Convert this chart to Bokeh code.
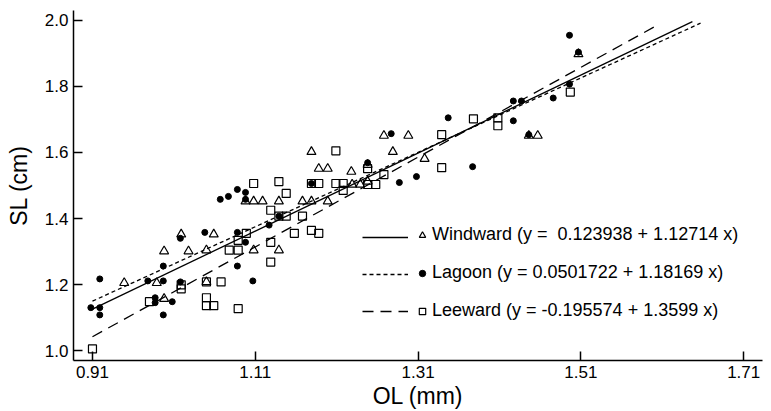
from bokeh.plotting import figure
from bokeh.models import Range1d, FixedTicker, Legend, LegendItem, ColumnDataSource
from bokeh.embed import file_html
from bokeh.resources import INLINE

# ---------------- data ----------------
windward_ol = [0.949, 0.989, 0.998, 0.998, 1.019, 1.028, 1.050, 1.050, 1.059, 1.108, 1.139,
               1.098, 1.108, 1.119, 1.139, 1.168, 1.179, 1.199, 1.179, 1.188, 1.199, 1.228,
               1.229, 1.239, 1.248, 1.248, 1.268, 1.298, 1.279, 1.318, 1.446, 1.457, 1.507]
windward_sl = [1.205, 1.205, 1.301, 1.157, 1.352, 1.301, 1.304, 1.208, 1.352, 1.304, 1.304,
               1.452, 1.452, 1.452, 1.452, 1.452, 1.452, 1.452, 1.602, 1.551, 1.551, 1.542,
               1.503, 1.503, 1.563, 1.512, 1.651, 1.651, 1.602, 1.581, 1.651, 1.651, 1.898]

lagoon_ol = [0.908, 0.919, 0.919, 0.919, 0.978, 0.987, 0.987, 0.997, 0.997, 0.997, 1.008,
             1.018, 1.018, 1.048, 1.088, 1.088, 1.098, 1.107, 1.067, 1.077, 1.088, 1.098,
             1.098, 1.127, 1.139, 1.179, 1.248, 1.277, 1.287, 1.308, 1.347, 1.377, 1.427,
             1.437, 1.427, 1.446, 1.476, 1.496, 1.507, 1.496]
lagoon_sl = [1.130, 1.217, 1.130, 1.108, 1.211, 1.160, 1.145, 1.256, 1.211, 1.108, 1.148,
             1.340, 1.208, 1.358, 1.358, 1.256, 1.328, 1.211, 1.458, 1.467, 1.488, 1.479,
             1.458, 1.380, 1.407, 1.506, 1.569, 1.657, 1.509, 1.527, 1.705, 1.557, 1.756,
             1.756, 1.696, 1.654, 1.765, 1.955, 1.904, 1.807]

leeward_ol = [0.910, 0.980, 1.019, 1.019, 1.050, 1.050, 1.050, 1.059, 1.068, 1.089, 1.089,
              1.078, 1.089, 1.099, 1.129, 1.129, 1.108, 1.139, 1.148, 1.129, 1.139, 1.148,
              1.168, 1.158, 1.179, 1.188, 1.179, 1.188, 1.209, 1.209, 1.218, 1.218, 1.248,
              1.248, 1.258, 1.268, 1.339, 1.339, 1.378, 1.408, 1.408, 1.497]
leeward_sl = [1.005, 1.148, 1.199, 1.187, 1.208, 1.160, 1.136, 1.136, 1.208, 1.127, 1.334,
              1.304, 1.304, 1.355, 1.328, 1.268, 1.506, 1.512, 1.476, 1.425, 1.407, 1.407,
              1.407, 1.355, 1.364, 1.355, 1.506, 1.506, 1.605, 1.506, 1.506, 1.485, 1.551,
              1.503, 1.503, 1.533, 1.654, 1.554, 1.702, 1.705, 1.681, 1.783]

# regression equations as printed in the legend
fit_names = ["Windward", "Lagoon", "Leeward"]
fit_intercept = [0.123938, 0.0501722, -0.195574]
fit_slope = [1.12714, 1.18169, 1.3599]
fit_x_start = [0.91, 0.91, 0.91]
fit_x_end = [1.657, 1.647, 1.602]
legend_labels = ["Windward (y =  0.123938 + 1.12714 x)",
                 "Lagoon (y = 0.0501722 + 1.18169 x)",
                 "Leeward (y = -0.195574 + 1.3599 x)"]

x_ticks = [0.91, 1.11, 1.31, 1.51, 1.71]
x_tick_labels = ["0.91", "1.11", "1.31", "1.51", "1.71"]
y_ticks = [1.0, 1.2, 1.4, 1.6, 1.8, 2.0]
y_tick_labels = ["1.0", "1.2", "1.4", "1.6", "1.8", "2.0"]

FONT = "Liberation Sans"

p = figure(width=771, height=411, output_backend="svg", toolbar_location=None,
           x_range=Range1d(0.8867, 1.7331), y_range=Range1d(0.9699, 2.0301),
           min_border_left=73, min_border_right=9, min_border_top=10, min_border_bottom=49)
p.outline_line_color = None
p.xgrid.visible = False
p.ygrid.visible = False
p.background_fill_color = "white"

# regression lines (drawn styles as in the picture)
drawn_dash = {"Windward": "4 3", "Lagoon": "solid", "Leeward": "11 7"}
line_r = {}
for name, a, b, x0, x1 in zip(fit_names, fit_intercept, fit_slope, fit_x_start, fit_x_end):
    src = ColumnDataSource(dict(x=[x0, x1], y=[a + b * x0, a + b * x1]))
    line_r[name] = p.line("x", "y", source=src, line_color="black", line_width=1.3,
                          line_dash=drawn_dash[name])

rw = p.scatter(windward_ol, windward_sl, marker="triangle", size=9, fill_color=None,
               line_color="black", line_width=1.2)
rl = p.scatter(lagoon_ol, lagoon_sl, marker="circle", size=6, fill_color="black",
               line_color="black")
rle = p.scatter(leeward_ol, leeward_sl, marker="square", size=8, fill_color=None,
                line_color="black", line_width=1.2)

# axes
for ax in (p.xaxis[0], p.yaxis[0]):
    ax.axis_line_width = 1.5
    ax.axis_line_color = "black"
    ax.major_tick_in = 9
    ax.major_tick_out = 0
    ax.major_tick_line_width = 1.5
    ax.major_tick_line_color = "black"
    ax.minor_tick_line_color = None
    ax.major_label_text_font = FONT
    ax.major_label_text_font_size = "17px"
    ax.major_label_text_color = "black"
    ax.axis_label_text_font = FONT
    ax.axis_label_text_font_size = "23px"
    ax.axis_label_text_font_style = "normal"
    ax.axis_label_text_color = "black"

p.xaxis.ticker = FixedTicker(ticks=x_ticks)
p.xaxis.major_label_overrides = dict(zip(x_ticks, x_tick_labels))
p.yaxis.ticker = FixedTicker(ticks=y_ticks)
p.yaxis.major_label_overrides = dict(zip(y_ticks, y_tick_labels))
p.xaxis.axis_label = "OL (mm)"
p.yaxis.axis_label = "SL (cm)"
p.xaxis.major_label_standoff = 5
p.xaxis.axis_label_standoff = 2
p.yaxis.major_label_standoff = 5
p.yaxis.axis_label_standoff = 10

# legend: line samples (left) + markers with text (right)
legA = Legend(items=[LegendItem(label=" ", renderers=[line_r["Lagoon"]]),
                     LegendItem(label=" ", renderers=[line_r["Windward"]]),
                     LegendItem(label=" ", renderers=[line_r["Leeward"]])],
              location=(289, 39))
legB = Legend(items=[LegendItem(label=legend_labels[0], renderers=[rw]),
                     LegendItem(label=legend_labels[1], renderers=[rl]),
                     LegendItem(label=legend_labels[2], renderers=[rle])],
              location=(341, 39))
for lg, gw in ((legA, 46), (legB, 16)):
    lg.glyph_width = gw
    lg.glyph_height = 20
    lg.label_height = 20
    lg.spacing = 17
    lg.padding = 0
    lg.margin = 0
    lg.label_standoff = 2
    lg.label_text_font = FONT
    lg.label_text_font_size = "18px"
    lg.label_text_color = "black"
    lg.border_line_color = None
    lg.background_fill_alpha = 0
    p.add_layout(lg, "center")

open("out.html", "w").write(file_html(p, INLINE))
